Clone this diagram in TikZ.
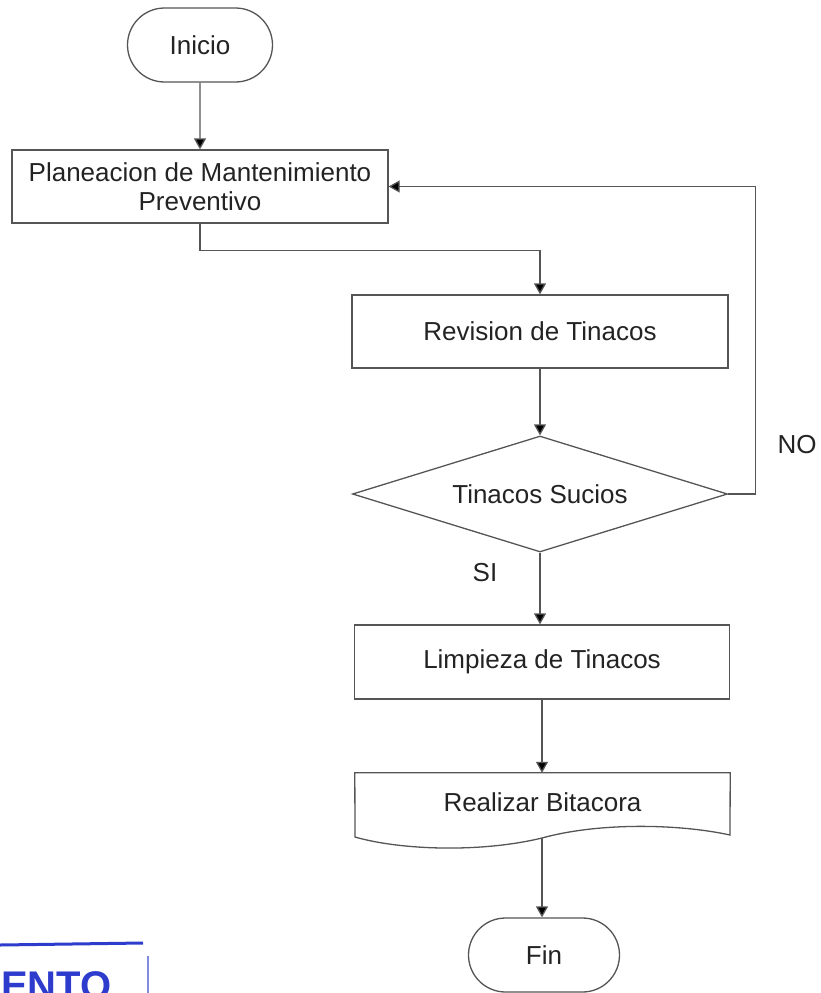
\documentclass[tikz,border=0pt]{standalone}
\usepackage{xcolor}
\usepackage{fontspec}
\setmainfont{Liberation Sans}
\usepackage{tikz}
\usetikzlibrary{shapes.misc,shapes.geometric,arrows.meta}
\definecolor{flow_line}{RGB}{85,85,85}
\definecolor{flow_text}{RGB}{35,35,35}
\definecolor{stamp_blue}{RGB}{45,60,205}

\begin{document}
\begin{tikzpicture}[x=1pt,y=-1pt,
        every node/.style={font=\fontsize{26}{29}\selectfont, text=flow_text},
        proc/.style={draw=flow_line, line width=1.3pt, rectangle, minimum width=376pt, minimum height=73pt, inner sep=0pt, align=center},
        term/.style={draw=flow_line, line width=1.3pt, rounded rectangle, inner sep=0pt},
        flow/.style={draw=flow_line, line width=1.3pt, -{Triangle[width=12pt,length=11pt,fill=black]}}]
        \useasboundingbox (0,0) rectangle (820,993);
        % Flow steps
        \node[term, minimum width=145pt, minimum height=74pt] (inicio) at (200,45) {Inicio};
        \node[proc] (plan) at (200,186.5) {Planeacion de Mantenimiento\\Preventivo};
        \node[proc] (rev) at (540,331.5) {Revision de Tinacos};
        \node[draw=flow_line, line width=1.3pt, diamond, aspect=3.23, minimum width=375pt, minimum height=116pt, inner sep=0pt] (dec) at (540,494) {Tinacos Sucios};
        \node[proc, minimum width=375pt, minimum height=74pt] (limp) at (542,662) {Limpieza de Tinacos};
        \node[minimum width=375pt, minimum height=58pt, inner sep=0pt] (bita) at (542.5,802) {Realizar Bitacora};
        \node[term, minimum width=151pt, minimum height=74pt] (fin) at (544,955) {Fin};
        % Document shape
        \coordinate (bitaout) at (542,838);
        \draw[flow_line, line width=1.3pt] (bita.north west) -- (bita.north east) -- (730,835)
            .. controls (680,824) and (600,822) .. (bitaout)
            .. controls (480,853) and (400,850) .. (355,837) -- cycle;
        % Branch labels
        \node (si) at (485,573) {SI};
        \node (no) at (797,445) {NO};
        % Draw connectors
        \draw[flow] (inicio) -- (plan);
        \draw[flow] (plan.south) -- ++(0,27) -| (rev.north);
        \draw[flow] (rev) -- (dec);
        \draw[flow] (dec.south) -- (dec.south |- limp.north);
        \draw[flow] (dec.east) -- ++(27,0) |- (plan.east);
        \draw[flow] (limp.south) -- (limp.south |- bita.north);
        \draw[flow] (bitaout) -- (bitaout |- fin.north);
        % Stamp in the corner
        \begin{scope}
            \clip (0,0) rectangle (820,993);
            \draw[stamp_blue, line width=3pt] (0,945) -- (143,943);
            \draw[stamp_blue!60, line width=1.5pt] (148,956) -- (148,993);
            \node[anchor=base west, inner sep=0pt, text=stamp_blue, font=\fontsize{40}{40}\selectfont\bfseries] (stamp) at (1,999) {ENTO};
        \end{scope}
\end{tikzpicture}
\end{document}
